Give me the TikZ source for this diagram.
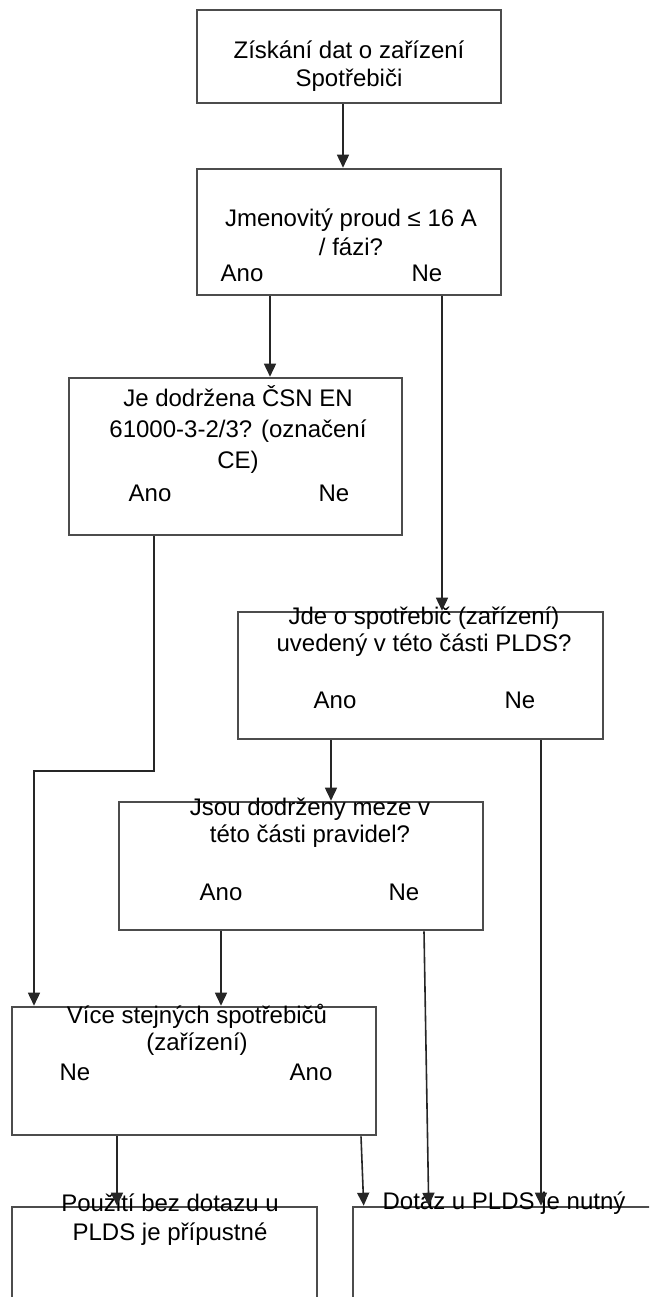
\documentclass[tikz,border=0pt]{standalone}
\usepackage{fontspec}
\setmainfont{Liberation Sans}
\usetikzlibrary{arrows.meta}

\begin{document}
\begin{tikzpicture}[x=1pt,y=-1pt,
  box/.style={draw=black!70,line width=2.6pt,inner sep=0pt},
  txt/.style={font=\fontsize{24}{29}\selectfont,align=center,inner sep=0pt},
  arr/.style={draw=black!85,line width=1.6pt,-{Triangle[width=12pt,length=13pt]}}]
\clip (0,0) rectangle (649,1297);

\coordinate (K1) at (34,771);

\node[box,minimum width=304pt,minimum height=93pt] (q1) at (349,56.5) {};
\node[box,minimum width=304pt,minimum height=126pt] (q2) at (349,232) {};
\node[box,minimum width=333pt,minimum height=157pt] (q3) at (235.5,456.5) {};
\node[box,minimum width=365pt,minimum height=127pt] (q4) at (420.5,675.5) {};
\node[box,minimum width=364pt,minimum height=128pt] (q5) at (301,866) {};
\node[box,minimum width=364pt,minimum height=128pt] (q6) at (194,1071) {};
\node[box,minimum width=305pt,minimum height=140pt] (q7) at (164.5,1277) {};
\node[box,minimum width=347pt,minimum height=140pt] (q8) at (526.5,1277) {};

\node[txt,font=\fontsize{24}{28}\selectfont] (t1) at (349,66) {Získání dat o zařízení\\Spotřebiči};
\node[txt] (t2) at (351,232) {Jmenovitý proud ≤ 16 A\\/ fázi?};
\node[txt] (a2) at (242,273) {Ano};
\node[txt] (n2) at (427,273) {Ne};
\node[txt,font=\fontsize{24}{31}\selectfont] (t3) at (238,429) {Je dodržena ČSN EN\\61000-3-2/3? (označení\\CE)};
\node[txt] (a3) at (150,493) {Ano};
\node[txt] (n3) at (334,493) {Ne};
\node[txt,font=\fontsize{24}{27}\selectfont] (t4) at (424,631.5) {Jde o spotřebič (zařízení)\\uvedený v této části PLDS?};
\node[txt] (a4) at (335,700) {Ano};
\node[txt] (n4) at (520,700) {Ne};
\node[txt,font=\fontsize{24}{27}\selectfont] (t5) at (310,823) {Jsou dodrženy meze v\\této části pravidel?};
\node[txt] (a5) at (221,892) {Ano};
\node[txt] (n5) at (404,892) {Ne};
\node[txt,font=\fontsize{24}{27}\selectfont] (t6) at (197,1030) {Více stejných spotřebičů\\(zařízení)};
\node[txt] (n6) at (75,1072) {Ne};
\node[txt] (a6) at (311,1072) {Ano};
\node[txt] (t7) at (170,1220) {Použití bez dotazu u\\PLDS je přípustné};
\node[txt] (t8) at (504,1203) {Dotaz u PLDS je nutný};

\draw[arr] ([xshift=-6pt]q1.south) coordinate (s1) -- (s1 |- q2.north);
\draw[arr] ([xshift=-79pt]q2.south) coordinate (s2a) -- (s2a |- q3.north);
\draw[arr] ([xshift=93pt]q2.south) coordinate (s2n) -- (s2n |- q4.north);
\draw[arr] ([xshift=-81.5pt]q3.south) |- (K1) -- (K1 |- q6.north);
\draw[arr] ([xshift=-89.5pt]q4.south) coordinate (s4a) -- (s4a |- q5.north);
\draw[arr] ([xshift=120.5pt]q4.south) coordinate (s4n) -- (s4n |- q8.north);
\draw[arr] ([xshift=-80pt]q5.south) coordinate (s5a) -- (s5a |- q6.north);
\draw[arr] ([xshift=123pt]q5.south) -- ([xshift=77pt]q8.north west);
\draw[arr] ([xshift=-77pt]q6.south) coordinate (s6n) -- (s6n |- q7.north);
\draw[arr] ([xshift=167pt]q6.south) -- ([xshift=12pt]q8.north west);

\end{tikzpicture}
\end{document}
